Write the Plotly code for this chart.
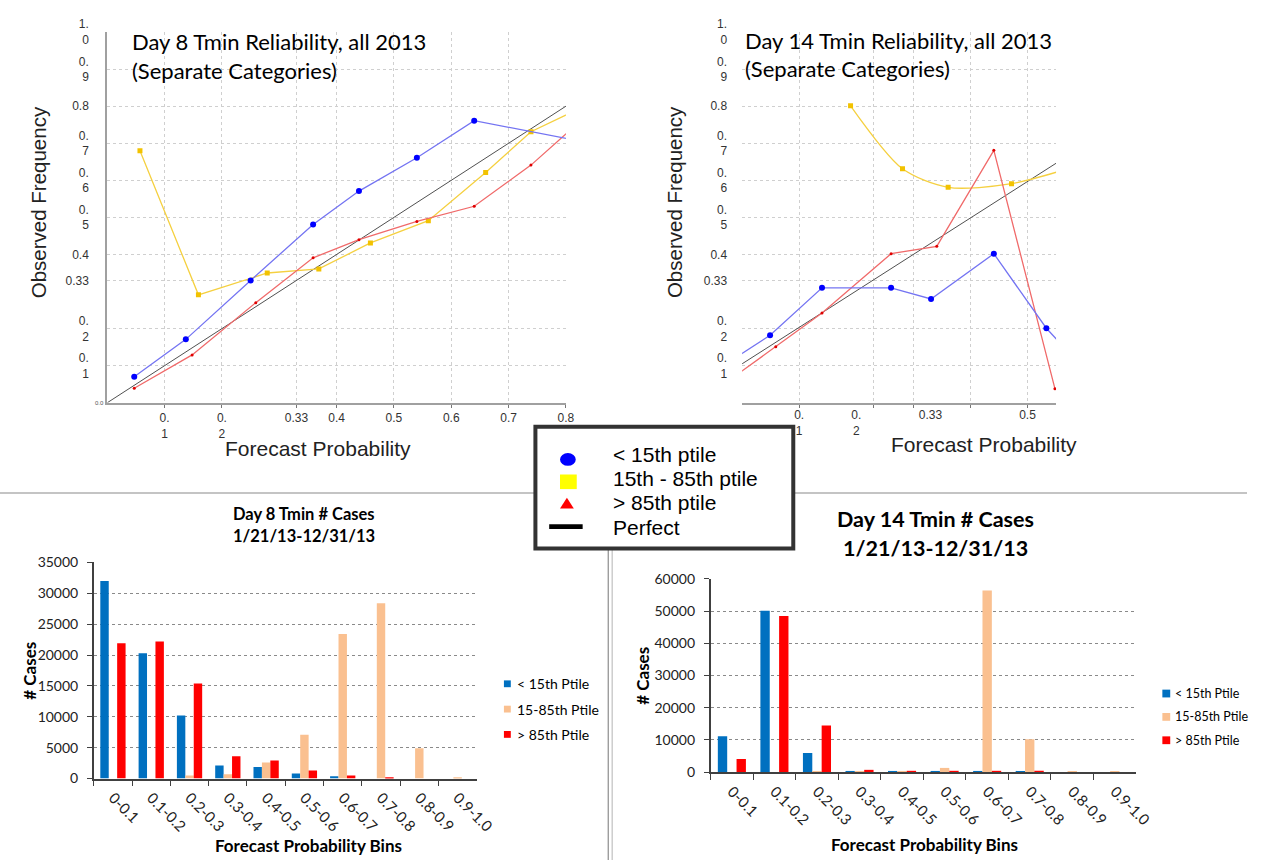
import plotly.graph_objects as go

W, H = 1267, 868
def fx(x):
    return x / W
def fy(y):
    return 1 - y / H

ARIAL = "Liberation Sans, Arial, sans-serif"
CALI = "Lato, Carlito, Calibri, sans-serif"

# ---------------- data ----------------
# Reliability, Day 8 (forecast probability, observed frequency)
rel8_below_x = [0.047, 0.137, 0.250, 0.359, 0.439, 0.540, 0.640, 0.850]
rel8_below_y = [0.070, 0.171, 0.330, 0.481, 0.571, 0.661, 0.761, 0.698]
rel8_normal_x = [0.057, 0.159, 0.279, 0.369, 0.459, 0.560, 0.660, 0.739, 0.850]
rel8_normal_y = [0.680, 0.291, 0.350, 0.361, 0.431, 0.491, 0.621, 0.731, 0.813]
rel8_above_x = [0.047, 0.148, 0.259, 0.359, 0.439, 0.540, 0.640, 0.739, 0.850]
rel8_above_y = [0.039, 0.129, 0.270, 0.391, 0.440, 0.489, 0.530, 0.641, 0.794]
perfect8_x = [0.0, 1.0]
perfect8_y = [0.0, 1.0]

# Reliability, Day 14
rel14_below_x = [-0.050, 0.049, 0.140, 0.261, 0.331, 0.441, 0.533, 0.600]
rel14_below_y = [0.083, 0.182, 0.310, 0.310, 0.280, 0.402, 0.201, 0.090]
rel14_normal_x = [0.190, 0.281, 0.361, 0.472, 0.600]
rel14_normal_y = [0.801, 0.631, 0.581, 0.591, 0.645]
rel14_above_x = [-0.050, 0.059, 0.140, 0.261, 0.341, 0.441, 0.548]
rel14_above_y = [0.030, 0.151, 0.242, 0.402, 0.422, 0.681, 0.038]
perfect14_x = [0.0, 0.55]
perfect14_y = [0.105, 0.646]

rel_ytick_vals = [0.1, 0.2, 0.33, 0.4, 0.5, 0.6, 0.7, 0.8, 0.9, 1.0]
rel_ytick_text = ["0.<br>1", "0.<br>2", "0.33", "0.4", "0.<br>5", "0.<br>6",
                  "0.<br>7", "0.8", "0.<br>9", "1.<br>0"]
rel8_xtick_vals = [0.1, 0.2, 0.33, 0.4, 0.5, 0.6, 0.7, 0.8]
rel8_xtick_text = ["0.<br>1", "0.<br>2", "0.33", "0.4", "0.5", "0.6", "0.7", "0.8"]
rel14_xtick_vals = [0.1, 0.2, 0.33, 0.5]
rel14_xtick_text = ["0.<br>1", "0.<br>2", "0.33", "0.5"]
rel14_xgrid_vals = [0.1, 0.23, 0.3, 0.4, 0.5]

# Number of cases per forecast probability bin
bins = ["0-0.1", "0.1-0.2", "0.2-0.3", "0.3-0.4", "0.4-0.5",
        "0.5-0.6", "0.6-0.7", "0.7-0.8", "0.8-0.9", "0.9-1.0"]
d8_below = [32000, 20300, 10200, 2100, 1850, 800, 350, 0, 0, 0]
d8_normal = [0, 0, 500, 700, 2600, 7100, 23400, 28400, 4900, 200]
d8_above = [21900, 22200, 15400, 3600, 2900, 1300, 500, 200, 0, 0]
d14_below = [11100, 50100, 5900, 300, 300, 300, 300, 300, 0, 0]
d14_normal = [0, 0, 300, 300, 300, 1300, 56400, 10200, 200, 200]
d14_above = [4100, 48500, 14500, 700, 400, 400, 400, 400, 0, 0]

series_names = ["< 15th Ptile", "15-85th Ptile", "> 85th Ptile"]
bar_colors = ["#0070c0", "#fac090", "#ff0000"]
main_legend = ["< 15th ptile", "15th - 85th ptile", "> 85th ptile", "Perfect"]

# ---------------- figure ----------------
fig = go.Figure()

def rel_traces(xa, ya, px_, py_, nx, ny, ax, ay, bx, by, yellow_shape):
    fig.add_trace(go.Scatter(x=px_, y=py_, mode="lines", xaxis=xa, yaxis=ya,
                             line=dict(color="#505050", width=1), showlegend=False,
                             name="Perfect"))
    fig.add_trace(go.Scatter(x=nx, y=ny, mode="lines+markers", xaxis=xa, yaxis=ya,
                             line=dict(color="#f5d040", width=1.3, shape=yellow_shape,
                                       smoothing=0.8),
                             marker=dict(symbol="square", size=5, color="#f2c200"),
                             showlegend=False, name="15th - 85th ptile"))
    fig.add_trace(go.Scatter(x=ax, y=ay, mode="lines+markers", xaxis=xa, yaxis=ya,
                             line=dict(color="#f06a6a", width=1.3),
                             marker=dict(symbol="circle", size=3, color="#e00000"),
                             showlegend=False, name="> 85th ptile"))
    fig.add_trace(go.Scatter(x=bx, y=by, mode="lines+markers", xaxis=xa, yaxis=ya,
                             line=dict(color="#7474f2", width=1.3),
                             marker=dict(symbol="circle", size=6, color="#0000ff"),
                             showlegend=False, name="< 15th ptile"))

rel_traces("x", "y", perfect8_x, perfect8_y, rel8_normal_x, rel8_normal_y,
           rel8_above_x, rel8_above_y, rel8_below_x, rel8_below_y, "linear")
rel_traces("x2", "y2", perfect14_x, perfect14_y, rel14_normal_x, rel14_normal_y,
           rel14_above_x, rel14_above_y, rel14_below_x, rel14_below_y, "spline")

offsets = [-0.33, -0.11, 0.11]
for vals, name, col, off in zip([d8_below, d8_normal, d8_above], series_names, bar_colors, offsets):
    fig.add_trace(go.Bar(x=bins, y=vals, name=name, marker=dict(color=col, line=dict(width=0)),
                         width=0.22, offset=off, xaxis="x3", yaxis="y3", showlegend=False))
for vals, name, col, off in zip([d14_below, d14_normal, d14_above], series_names, bar_colors, offsets):
    fig.add_trace(go.Bar(x=bins, y=vals, name=name, marker=dict(color=col, line=dict(width=0)),
                         width=0.22, offset=off, xaxis="x4", yaxis="y4", showlegend=False))

grid_rel = dict(showgrid=True, gridcolor="#cfcfcf", griddash="dot", gridwidth=1, zeroline=False)
tf_rel = dict(family=ARIAL, size=12, color="#333333")
tf_bar = dict(family=CALI, size=14, color="#222222")

layout = dict(
    width=W, height=H, margin=dict(l=0, r=0, t=0, b=0),
    paper_bgcolor="white", plot_bgcolor="white", barmode="overlay",
    showlegend=False,
    xaxis=dict(domain=[fx(109), fx(575)], range=[0, 0.8], anchor="y",
               tickmode="array", tickvals=rel8_xtick_vals, ticktext=rel8_xtick_text,
               tickangle=0, tickfont=tf_rel, showline=True, linecolor="#a0a0a0", linewidth=2,
               ticks="outside", ticklen=3, tickcolor="#777777", **grid_rel),
    yaxis=dict(domain=[fy(398.3), fy(17.5)], range=[0, 1.0], anchor="x",
               tickmode="array", tickvals=rel_ytick_vals, ticktext=rel_ytick_text,
               tickfont=tf_rel, showline=True, linecolor="#a0a0a0", linewidth=2,
               ticks="", ticklabelstandoff=14, **grid_rel),
    xaxis2=dict(domain=[fx(754), fx(1073)], range=[0, 0.55], anchor="y2",
                tickmode="array", tickvals=rel14_xtick_vals, ticktext=rel14_xtick_text,
                tickangle=0, tickfont=tf_rel, showline=True, linecolor="#a0a0a0", linewidth=2,
                ticks="", showgrid=False, zeroline=False,
                minor=dict(tickvals=rel14_xgrid_vals, showgrid=True, gridcolor="#cfcfcf",
                           griddash="dot", gridwidth=1, ticks="outside", ticklen=3,
                           tickcolor="#777777")),
    yaxis2=dict(domain=[fy(398.3), fy(17.5)], range=[0, 1.0], anchor="x2",
                tickmode="array", tickvals=rel_ytick_vals, ticktext=rel_ytick_text,
                tickfont=tf_rel, showline=False, ticks="", ticklabelstandoff=14, **grid_rel),
    xaxis3=dict(domain=[fx(95.3), fx(484.4)], anchor="y3", type="category",
                categoryorder="array", categoryarray=bins,
                showline=True, linecolor="#404040", linewidth=1.5,
                ticks="outside", tickson="boundaries", ticklen=6, tickcolor="#404040",
                tickangle=45, tickfont=dict(family=CALI, size=15, color="#222222"),
                ticklabelstandoff=3, showgrid=False, zeroline=False),
    yaxis3=dict(domain=[fy(784.3), fy(562.3)], range=[0, 35000], dtick=5000, anchor="x3",
                tickformat="d", ticklabelstandoff=6,
                showline=True, linecolor="#404040", linewidth=1.5, ticks="outside", ticklen=5,
                tickcolor="#404040", tickfont=tf_bar,
                showgrid=True, gridcolor="#8a8a8a", griddash="dot", gridwidth=1, zeroline=False),
    xaxis4=dict(domain=[fx(722), fx(1154.3)], anchor="y4", type="category",
                categoryorder="array", categoryarray=bins,
                showline=True, linecolor="#404040", linewidth=1.5,
                ticks="outside", tickson="boundaries", ticklen=6, tickcolor="#404040",
                tickangle=45, tickfont=dict(family=CALI, size=15, color="#222222"),
                ticklabelstandoff=3, showgrid=False, zeroline=False),
    yaxis4=dict(domain=[fy(777.7), fy(579.3)], range=[0, 60000], dtick=10000, anchor="x4",
                tickformat="d", ticklabelstandoff=6,
                showline=True, linecolor="#404040", linewidth=1.5, ticks="outside", ticklen=5,
                tickcolor="#404040", tickfont=tf_bar,
                showgrid=True, gridcolor="#8a8a8a", griddash="dot", gridwidth=1, zeroline=False),
)
fig.update_layout(**layout)

ann = []
def text(x, y, s, size, family, xanchor="left", bold=False, angle=0, color="black"):
    if bold:
        s = "<b>" + s + "</b>"
    ann.append(dict(x=fx(x), y=fy(y), xref="paper", yref="paper", text=s, showarrow=False,
                    xanchor=xanchor, yanchor="middle", textangle=angle,
                    font=dict(family=family, size=size, color=color)))

# top titles
text(132, 27, "Day 8 Tmin Reliability, all 2013", 22, CALI)
text(132, 57, "(Separate Categories)", 22, CALI)
text(755, 26, "Day 14 Tmin Reliability, all 2013", 22, CALI)
text(755, 55, "(Separate Categories)", 22, CALI)
# top axis titles
text(40, 192, "Observed Frequency", 20.5, ARIAL, xanchor="center", angle=-90, color="#222")
text(323, 445, "Forecast Probability", 21, ARIAL, xanchor="center", color="#222")
text(686, 192, "Observed Frequency", 20.5, ARIAL, xanchor="center", angle=-90, color="#222")
text(1000, 441, "Forecast Probability", 21, ARIAL, xanchor="center", color="#222")
text(101, 399, "0.0", 6, ARIAL, xanchor="center", color="#555")
# bottom titles
text(309, 513, "Day 8 Tmin # Cases", 16.5, CALI, xanchor="center", bold=True)
text(309, 535, "1/21/13-12/31/13", 16.5, CALI, xanchor="center", bold=True)
text(950, 518, "Day 14 Tmin # Cases", 21.5, CALI, xanchor="center", bold=True)
text(950, 547, "1/21/13-12/31/13", 21.5, CALI, xanchor="center", bold=True)
text(30, 674, "# Cases", 17, CALI, xanchor="center", bold=True, angle=-90)
text(313, 853, "Forecast Probability Bins", 17, CALI, xanchor="center", bold=True)
text(652, 679, "# Cases", 17, CALI, xanchor="center", bold=True, angle=-90)
text(939, 852, "Forecast Probability Bins", 17, CALI, xanchor="center", bold=True)

shapes = []
def rect(x0, y0, x1, y1, fill, line_color=None, lw=0):
    shapes.append(dict(type="rect", xref="paper", yref="paper", x0=fx(x0), x1=fx(x1),
                       y0=fy(y0), y1=fy(y1), fillcolor=fill,
                       line=dict(color=line_color or fill, width=lw)))
def hline(x0, x1, y, color, w):
    shapes.append(dict(type="line", xref="paper", yref="paper", x0=fx(x0), x1=fx(x1),
                       y0=fy(y), y1=fy(y), line=dict(color=color, width=w)))
def vline(x, y0, y1, color, w):
    shapes.append(dict(type="line", xref="paper", yref="paper", x0=fx(x), x1=fx(x),
                       y0=fy(y0), y1=fy(y1), line=dict(color=color, width=w)))

# separators
hline(0, 1267, 491, "#c4c4c4", 2)
vline(618, 491, 868, "#8c8c8c", 1.2)
vline(622, 491, 868, "#c0c0c0", 1.2)

# main legend box
rect(544, 423, 806, 548, "white", "#333333", 4)
shapes.append(dict(type="circle", xref="paper", yref="paper", x0=fx(569), x1=fx(585),
                   y0=fy(463), y1=fy(450), fillcolor="#0000ff", line=dict(color="#0000ff", width=0)))
rect(569, 472, 586, 487, "#ffff00")
shapes.append(dict(type="path", xref="paper", yref="paper",
                   path="M %f,%f L %f,%f L %f,%f Z" % (fx(569), fy(507), fx(583), fy(507), fx(576), fy(496)),
                   fillcolor="#ff0000", line=dict(color="#ff0000", width=0)))
rect(558, 523, 592, 528, "black")
for s, yy in zip(main_legend, [451, 476, 501, 526]):
    text(621, yy, s, 21, ARIAL)

# bar legends
for col, s, yy in zip(bar_colors, series_names, [687, 713, 739]):
    rect(512, yy - 3.5, 519, yy + 3.5, col)
    text(523, yy, s, 14, CALI)
for col, s, yy in zip(bar_colors, series_names, [697, 721, 745]):
    rect(1181, yy - 4, 1189, yy + 4, col)
    text(1192, yy, s, 12.5, CALI)

fig.update_layout(annotations=ann, shapes=shapes)
fig.write_html("out.html")
